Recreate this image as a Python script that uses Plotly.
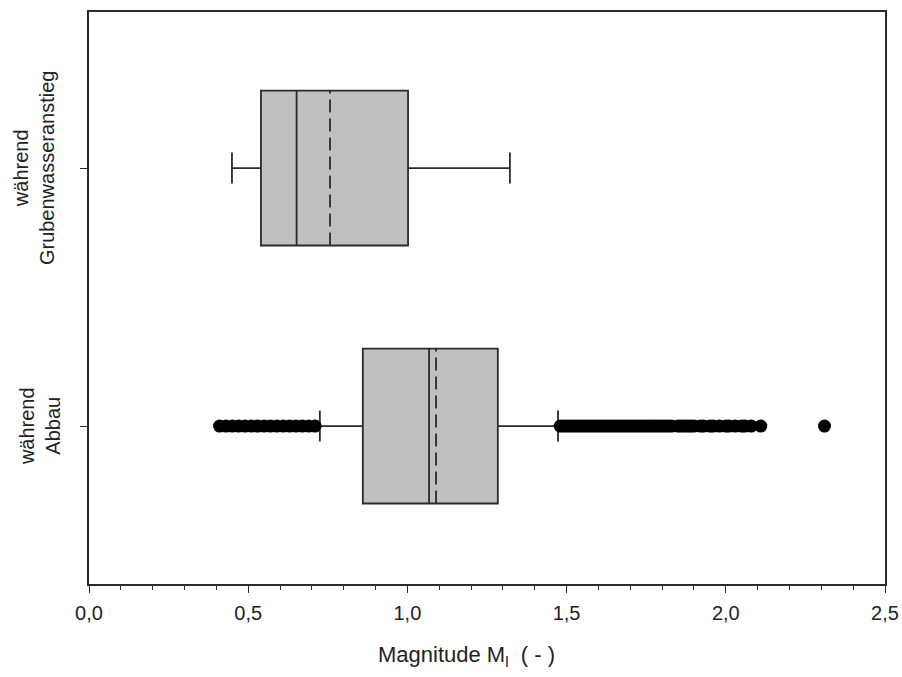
import plotly.graph_objects as go

# Categories (bottom to top) and their positions on the y axis
categories = ["während<br>Abbau", "während<br>Grubenwasseranstieg"]
positions = [0, 1]
box_width = 0.6

# Box statistics per category
lower_whisker = [0.725, 0.449]
q1 = [0.860, 0.540]
median = [1.068, 0.652]
q3 = [1.284, 1.002]
upper_whisker = [1.473, 1.322]
mean = [1.090, 0.757]

# Outliers of the "Abbau" group
outliers_abbau = [
    0.41, 0.43, 0.45, 0.47, 0.49, 0.51, 0.53, 0.55, 0.57, 0.59, 0.61, 0.63,
    0.65, 0.67, 0.69, 0.71,
    1.48, 1.49, 1.50, 1.51, 1.52, 1.53, 1.54, 1.55, 1.56, 1.57, 1.58, 1.59,
    1.60, 1.61, 1.62, 1.63, 1.64, 1.65, 1.66, 1.67, 1.68, 1.69, 1.70, 1.71,
    1.72, 1.73, 1.74, 1.75, 1.76, 1.77, 1.78, 1.79, 1.80, 1.81, 1.82, 1.83,
    1.85, 1.86, 1.87, 1.88, 1.89, 1.90, 1.92, 1.93, 1.95, 1.96,
    1.98, 2.00, 2.01, 2.03, 2.05, 2.06, 2.08, 2.11,
    2.31,
]

x_ticks = [0.0, 0.5, 1.0, 1.5, 2.0, 2.5]

FONT = "Arial, Liberation Sans, sans-serif"
LINE = "#2b2b2b"
TEXT = "#222222"

fig = go.Figure()

fig.add_trace(go.Box(
    y=positions,
    q1=q1, median=median, q3=q3,
    lowerfence=lower_whisker, upperfence=upper_whisker,
    orientation="h",
    width=box_width,
    fillcolor="#c0c0c0",
    line=dict(color=LINE, width=1.8),
    whiskerwidth=0.2,
    boxpoints=False,
    showlegend=False,
    hoverinfo="skip",
))

# Dashed mean line across each box
for pos, m in zip(positions, mean):
    fig.add_trace(go.Scatter(
        x=[m, m],
        y=[pos - box_width / 2, pos + box_width / 2],
        mode="lines",
        line=dict(color=LINE, width=1.8, dash="13px,6px"),
        showlegend=False,
        hoverinfo="skip",
    ))

fig.add_trace(go.Scatter(
    x=outliers_abbau,
    y=[positions[0]] * len(outliers_abbau),
    mode="markers",
    marker=dict(color="black", size=13, symbol="circle"),
    showlegend=False,
    hoverinfo="skip",
))

# Rotated two-line category labels beside the y axis
label_shift = [-49, -55]
annotations = [
    dict(
        text=cat, xref="paper", yref="y", x=0, y=pos,
        xanchor="center", yanchor="middle", xshift=shift,
        textangle=-90, showarrow=False,
        font=dict(size=20, family=FONT, color=TEXT),
    )
    for cat, pos, shift in zip(categories, positions, label_shift)
]
annotations.append(dict(
    text="Magnitude M<sub>l</sub>  ( - )",
    xref="paper", yref="paper",
    x=0.474, y=0, xanchor="center", yanchor="middle",
    yshift=-72,
    showarrow=False,
    font=dict(size=22, family=FONT, color=TEXT),
))

fig.update_layout(
    width=902, height=677,
    margin=dict(l=89, r=17, t=12, b=93, autoexpand=False),
    paper_bgcolor="white", plot_bgcolor="white",
    separators=", ",
    font=dict(family=FONT, color=TEXT),
    annotations=annotations,
)

fig.update_xaxes(
    range=[0, 2.5],
    tickvals=x_ticks,
    tickformat=".1f",
    automargin=False,
    ticks="outside", ticklen=7, tickwidth=1.3, tickcolor=LINE,
    minor=dict(dtick=0.1, ticks="outside", ticklen=4, tickwidth=1.3, tickcolor=LINE),
    showline=True, linecolor=LINE, linewidth=1.6, mirror=True,
    showgrid=False, zeroline=False,
    ticklabelstandoff=3,
    tickfont=dict(size=20, family=FONT, color=TEXT),
)

fig.update_yaxes(
    range=[-0.612, 1.605],
    tickvals=positions,
    showticklabels=False,
    automargin=False,
    ticks="outside", ticklen=7, tickwidth=1.3, tickcolor=LINE,
    showline=True, linecolor=LINE, linewidth=1.6, mirror=True,
    showgrid=False, zeroline=False,
)

fig.write_html("out.html")
